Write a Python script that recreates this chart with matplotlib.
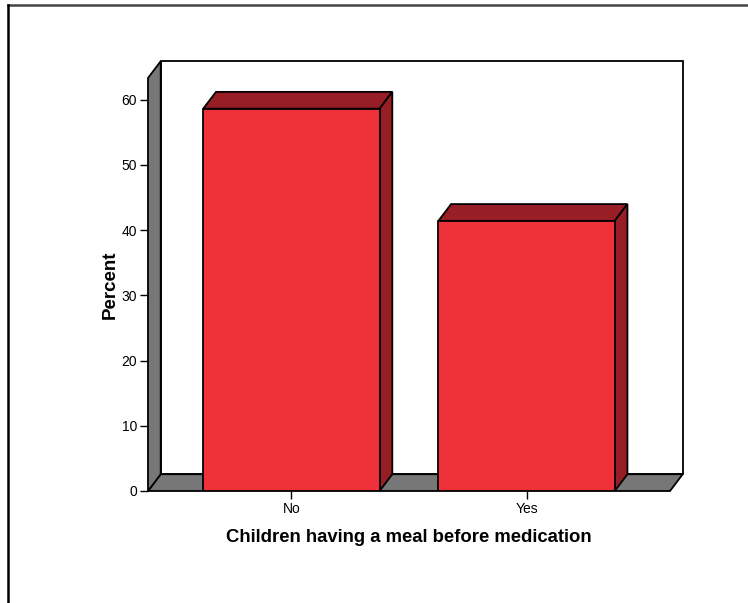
import matplotlib.pyplot as plt
from matplotlib.patches import Polygon, Rectangle
from matplotlib.lines import Line2D

plt.rcParams['font.family'] = ['Liberation Sans', 'DejaVu Sans']

categories = ['No', 'Yes']
percent = [58.6, 41.4]
yticks = [0, 10, 20, 30, 40, 50, 60]

front_col = '#ef323a'
shade_col = '#961e24'
wall_col = '#777777'

W, H = 748, 603
fig = plt.figure(figsize=(W / 100, H / 100), dpi=100)

# front plane of the 3d box, in pixels
left, right, bottom, top = 148, 670, 491, 78
ax = fig.add_axes([left / W, 1 - bottom / H, (right - left) / W, (bottom - top) / H])
ax.set_xlim(-0.61, 1.61)
ax.set_ylim(0, 63.3)

# depth offset converted to data units
depth_x, depth_y = 12.7, 16.8
dx = depth_x / (right - left) * (1.61 + 0.61)
dy = depth_y / (bottom - top) * 63.3
x0, x1 = ax.get_xlim()
y0, y1 = ax.get_ylim()

lw = 1.3
# back wall
ax.add_patch(Rectangle((x0 + dx, y0 + dy), x1 - x0, y1 - y0, facecolor='white',
                       edgecolor='black', lw=lw, clip_on=False, zorder=1))
# floor
ax.add_patch(Polygon([(x0, y0), (x1, y0), (x1 + dx, y0 + dy), (x0 + dx, y0 + dy)],
                     facecolor=wall_col, edgecolor='black', lw=lw, clip_on=False, zorder=2))
# left wall
ax.add_patch(Polygon([(x0, y0), (x0 + dx, y0 + dy), (x0 + dx, y1 + dy), (x0, y1)],
                     facecolor=wall_col, edgecolor='black', lw=lw, clip_on=False, zorder=2))

# bars: front face + top + right side
width = 0.75
for i, v in enumerate(percent):
    bl = i - width / 2
    br = i + width / 2
    ax.add_patch(Polygon([(bl, v), (br, v), (br + dx, v + dy), (bl + dx, v + dy)],
                         facecolor=shade_col, edgecolor='black', lw=lw, clip_on=False, zorder=3))
    ax.add_patch(Polygon([(br, 0), (br + dx, dy), (br + dx, v + dy), (br, v)],
                         facecolor=shade_col, edgecolor='black', lw=lw, clip_on=False, zorder=3))
ax.bar(range(len(categories)), percent, width=width, color=front_col,
       edgecolor='black', lw=lw, zorder=4)

for s in ['top', 'right', 'bottom', 'left']:
    ax.spines[s].set_visible(False)
ax.patch.set_visible(False)

ax.set_xticks(range(len(categories)))
ax.set_xticklabels(categories)
ax.set_yticks(yticks)
ax.tick_params(axis='both', labelsize=10, length=6, width=1, color='black', pad=2)
ax.set_ylabel('Percent', fontsize=13.5, fontweight='bold', labelpad=2)
ax.set_xlabel('Children having a meal before medication', fontsize=13.3,
              fontweight='bold', labelpad=9)

# outer frame
fig.add_artist(Line2D([8 / W, 1], [1 - 5 / H, 1 - 5 / H], color='#444444', lw=1.8))
fig.add_artist(Line2D([8 / W, 8 / W], [0, 1 - 5 / H], color='black', lw=1.8))

fig.savefig('out.png', dpi=100)
